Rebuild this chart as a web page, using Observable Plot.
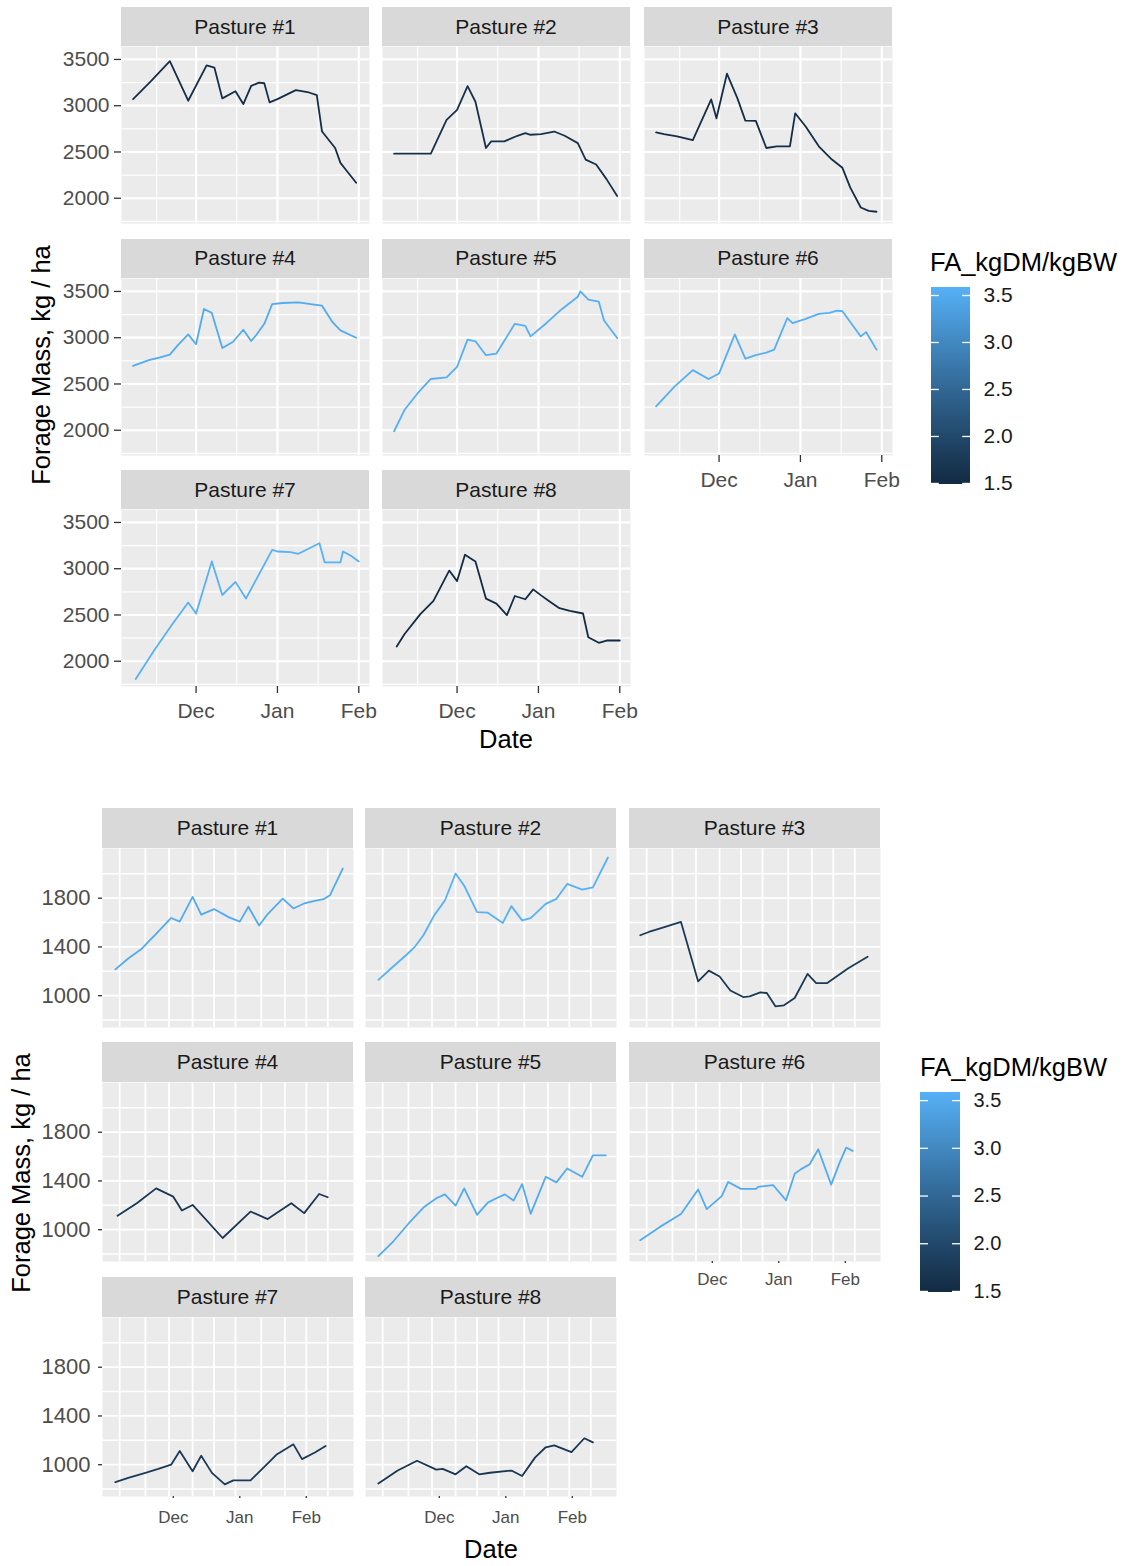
<!DOCTYPE html>
<html>
<head>
<meta charset="utf-8">
<script src="https://cdn.jsdelivr.net/npm/d3@7"></script>
<script src="https://cdn.jsdelivr.net/npm/@observablehq/plot@0.6"></script>
<style>
  body { margin: 0; background: #ffffff; }
  #root { position: relative; width: 1126px; height: 1566px; font-family: "Liberation Sans", Arial, sans-serif; overflow: hidden; }
  .strip { position: absolute; background: #D9D9D9; color: #1A1A1A; display: flex; align-items: center; justify-content: center; white-space: nowrap; }
  .txt { position: absolute; white-space: nowrap; color: #000; line-height: 1; }
</style>
</head>
<body>
<div id="root"></div>
<script>
// ---------------- DATA ----------------
const pastureNames = ["Pasture #1","Pasture #2","Pasture #3","Pasture #4","Pasture #5","Pasture #6","Pasture #7","Pasture #8"];

// Top chart: forage mass (kg/ha) by date
const topP1 = [["2016-11-07",3071],["2016-11-14",3270],["2016-11-21",3482],["2016-11-28",3054],["2016-12-05",3436],["2016-12-08",3411],["2016-12-11",3079],["2016-12-16",3157],["2016-12-19",3018],["2016-12-22",3214],["2016-12-25",3250],["2016-12-27",3243],["2016-12-29",3036],["2017-01-01",3071],["2017-01-08",3168],["2017-01-13",3143],["2017-01-16",3114],["2017-01-18",2721],["2017-01-23",2543],["2017-01-25",2382],["2017-01-27",2311],["2017-01-31",2168]];
const topP2 = [["2016-11-07",2482],["2016-11-21",2482],["2016-11-27",2846],["2016-12-01",2954],["2016-12-05",3211],["2016-12-08",3043],["2016-12-12",2543],["2016-12-14",2614],["2016-12-19",2614],["2016-12-24",2675],["2016-12-27",2704],["2016-12-29",2686],["2017-01-02",2693],["2017-01-07",2721],["2017-01-11",2675],["2017-01-16",2596],["2017-01-19",2418],["2017-01-23",2364],["2017-01-27",2204],["2017-01-31",2025]];
const topP3 = [["2016-11-07",2711],["2016-11-10",2693],["2016-11-15",2668],["2016-11-21",2629],["2016-11-28",3068],["2016-11-30",2864],["2016-12-04",3346],["2016-12-08",3079],["2016-12-11",2839],["2016-12-15",2836],["2016-12-19",2543],["2016-12-23",2561],["2016-12-28",2561],["2016-12-30",2918],["2017-01-03",2775],["2017-01-08",2561],["2017-01-13",2418],["2017-01-17",2329],["2017-01-20",2114],["2017-01-24",1900],["2017-01-27",1864],["2017-01-30",1854]];
const topP4 = [["2016-11-07",2696],["2016-11-13",2757],["2016-11-17",2786],["2016-11-21",2818],["2016-11-24",2918],["2016-11-28",3036],["2016-12-01",2929],["2016-12-04",3311],["2016-12-07",3268],["2016-12-11",2889],["2016-12-15",2954],["2016-12-19",3086],["2016-12-22",2964],["2016-12-24",3032],["2016-12-27",3150],["2016-12-30",3364],["2017-01-03",3375],["2017-01-09",3382],["2017-01-15",3357],["2017-01-18",3346],["2017-01-22",3168],["2017-01-25",3079],["2017-01-31",3000]];
const topP5 = [["2016-11-07",1989],["2016-11-11",2221],["2016-11-16",2400],["2016-11-21",2554],["2016-11-27",2571],["2016-12-01",2686],["2016-12-05",2979],["2016-12-08",2961],["2016-12-12",2811],["2016-12-16",2829],["2016-12-23",3150],["2016-12-27",3129],["2016-12-29",3014],["2017-01-04",3157],["2017-01-10",3311],["2017-01-16",3443],["2017-01-17",3500],["2017-01-20",3411],["2017-01-24",3389],["2017-01-26",3186],["2017-01-31",2996]];
const topP6 = [["2016-11-07",2257],["2016-11-14",2471],["2016-11-21",2650],["2016-11-27",2554],["2016-12-01",2614],["2016-12-07",3036],["2016-12-11",2775],["2016-12-15",2811],["2016-12-19",2839],["2016-12-22",2871],["2016-12-27",3211],["2016-12-29",3157],["2017-01-03",3204],["2017-01-08",3257],["2017-01-12",3268],["2017-01-15",3293],["2017-01-17",3286],["2017-01-24",3014],["2017-01-26",3061],["2017-01-30",2871]];
const topP7 = [["2016-11-08",1807],["2016-11-15",2117],["2016-11-22",2402],["2016-11-28",2634],["2016-12-01",2516],["2016-12-07",3079],["2016-12-11",2716],["2016-12-16",2858],["2016-12-20",2677],["2016-12-30",3204],["2017-01-01",3186],["2017-01-06",3179],["2017-01-09",3161],["2017-01-17",3275],["2017-01-19",3069],["2017-01-25",3069],["2017-01-26",3186],["2017-01-29",3140],["2017-02-01",3079]];
const topP8 = [["2016-11-08",2160],["2016-11-11",2295],["2016-11-17",2509],["2016-11-22",2652],["2016-11-28",2980],["2016-12-01",2866],["2016-12-04",3151],["2016-12-08",3079],["2016-12-12",2677],["2016-12-16",2623],["2016-12-20",2498],["2016-12-23",2705],["2016-12-27",2670],["2016-12-30",2777],["2017-01-02",2712],["2017-01-05",2652],["2017-01-09",2573],["2017-01-13",2545],["2017-01-18",2516],["2017-01-20",2260],["2017-01-24",2199],["2017-01-27",2224],["2017-02-01",2224]];
const topFA = [1.55, 1.6, 1.55, 3.5, 3.55, 3.55, 3.58, 1.5];

// Bottom chart
const botP1 = [["2016-11-04",1216],["2016-11-10",1305],["2016-11-16",1381],["2016-11-20",1454],["2016-11-23",1508],["2016-11-30",1638],["2016-12-04",1608],["2016-12-10",1811],["2016-12-14",1665],["2016-12-20",1711],["2016-12-27",1643],["2017-01-01",1608],["2017-01-05",1730],["2017-01-10",1576],["2017-01-14",1670],["2017-01-21",1797],["2017-01-26",1716],["2017-01-31",1757],["2017-02-05",1778],["2017-02-09",1792],["2017-02-12",1824],["2017-02-18",2043]];
const botP2 = [["2016-11-04",1130],["2016-11-10",1225],["2016-11-17",1334],["2016-11-21",1401],["2016-11-25",1496],["2016-11-30",1659],["2016-12-05",1781],["2016-12-10",2003],["2016-12-14",1903],["2016-12-20",1686],["2016-12-25",1681],["2017-01-01",1597],["2017-01-05",1735],["2017-01-10",1618],["2017-01-14",1637],["2017-01-21",1754],["2017-01-26",1795],["2017-01-31",1917],["2017-02-07",1870],["2017-02-12",1889],["2017-02-19",2134]];
const botP3 = [["2016-11-03",1496],["2016-11-07",1523],["2016-11-12",1550],["2016-11-22",1605],["2016-11-30",1117],["2016-12-05",1206],["2016-12-10",1157],["2016-12-15",1043],["2016-12-21",989],["2016-12-24",995],["2016-12-29",1027],["2017-01-01",1022],["2017-01-05",913],["2017-01-09",921],["2017-01-14",981],["2017-01-20",1179],["2017-01-24",1103],["2017-01-29",1103],["2017-02-08",1225],["2017-02-17",1320]];
const botP4 = [["2016-11-05",1114],["2016-11-14",1217],["2016-11-23",1339],["2016-12-01",1271],["2016-12-05",1157],["2016-12-10",1203],["2016-12-24",932],["2017-01-06",1149],["2017-01-14",1087],["2017-01-25",1217],["2017-01-31",1136],["2017-02-07",1293],["2017-02-11",1266]];
const botP5 = [["2016-11-04",783],["2016-11-11",905],["2016-11-18",1049],["2016-11-25",1182],["2016-12-01",1258],["2016-12-05",1290],["2016-12-10",1198],["2016-12-14",1339],["2016-12-20",1122],["2016-12-25",1222],["2016-12-29",1258],["2017-01-02",1290],["2017-01-06",1239],["2017-01-10",1374],["2017-01-14",1130],["2017-01-21",1434],["2017-01-26",1388],["2017-01-31",1502],["2017-02-07",1434],["2017-02-12",1610],["2017-02-18",1610]];
const botP6 = [["2016-11-03",914],["2016-11-12",1021],["2016-11-22",1129],["2016-11-30",1330],["2016-12-04",1169],["2016-12-11",1276],["2016-12-14",1392],["2016-12-20",1335],["2016-12-27",1335],["2016-12-28",1352],["2017-01-04",1365],["2017-01-10",1241],["2017-01-14",1459],["2017-01-17",1497],["2017-01-21",1537],["2017-01-25",1660],["2017-01-31",1370],["2017-02-04",1553],["2017-02-07",1674],["2017-02-10",1647]];
const botP7 = [["2016-11-04",857],["2016-11-10",892],["2016-11-18",933],["2016-11-24",965],["2016-11-30",1000],["2016-12-04",1113],["2016-12-10",946],["2016-12-14",1073],["2016-12-19",933],["2016-12-25",838],["2016-12-29",871],["2017-01-06",871],["2017-01-15",1027],["2017-01-18",1081],["2017-01-26",1167],["2017-01-30",1046],["2017-02-05",1100],["2017-02-10",1153]];
const botP8 = [["2016-11-04",846],["2016-11-13",952],["2016-11-22",1032],["2016-12-01",960],["2016-12-04",966],["2016-12-10",921],["2016-12-15",987],["2016-12-21",921],["2016-12-26",934],["2017-01-05",952],["2017-01-10",907],["2017-01-16",1058],["2017-01-21",1143],["2017-01-25",1159],["2017-02-02",1103],["2017-02-08",1217],["2017-02-12",1183]];
const botFA = [3.5, 3.58, 1.75, 1.7, 3.5, 3.5, 1.75, 1.7];

// Axis ticks / gridlines
const monthTicks = ["2016-12-01","2017-01-01","2017-02-01"];
const topMinorX = ["2016-11-16","2016-12-16T12:00Z","2017-01-16T12:00Z"];
const topMajorY = [2000, 2500, 3000, 3500];
const topMinorY = [1750, 2250, 2750, 3250];
const botGridX = ["2016-11-06","2016-11-18","2016-11-29","2016-12-10","2016-12-20","2016-12-30","2017-01-11","2017-01-22","2017-02-01","2017-02-11"];
const botMajorY = [1000, 1400, 1800];
const botMinorY = [800, 1200, 1600, 2000];
const legendTicks = [1.5, 2.0, 2.5, 3.0, 3.5];

const yTitle = "Forage Mass, kg / ha";
const xTitle = "Date";
const legendTitle = "FA_kgDM/kgBW";

// ---------------- RENDER ----------------
const FONT = '"Liberation Sans", Arial, sans-serif';
const FA_DOMAIN = [1.489, 3.585];
const FA_RANGE = ["#132B43", "#56B1F7"];
const root = document.getElementById("root");
const P = s => d3.isoParse(s);

function addDiv(cls, text, css) {
  const d = document.createElement("div");
  d.className = cls;
  d.textContent = text;
  Object.assign(d.style, css);
  root.appendChild(d);
  return d;
}

function makePanel(o) {
  const ML = 90, MB = 50, MR = 1;
  const marks = [
    Plot.frame({fill: "#EBEBEB", stroke: "none"}),
    Plot.ruleY(o.minorY, {stroke: "white", strokeWidth: o.minorW}),
    Plot.ruleX(o.minorX, {stroke: "white", strokeWidth: o.minorW}),
    Plot.ruleY(o.majorY, {stroke: "white", strokeWidth: o.majorW}),
    Plot.ruleX(o.majorX, {stroke: "white", strokeWidth: o.majorW}),
    Plot.line(o.data, {x: "date", y: "mass", stroke: "fa", strokeWidth: 1.8})
  ];
  if (o.showY) marks.push(Plot.axisY(o.yTicks, {anchor: "left", tickSize: o.yTickSize, tickPadding: o.yTickPad, fontSize: o.yFont, fill: "#4D4D4D", stroke: "#333333", strokeWidth: 1.3, label: null, tickFormat: d3.format("d")}));
  if (o.showX) marks.push(Plot.axisX(o.xTicks, {anchor: "bottom", tickSize: o.xTickSize, tickPadding: o.xTickPad, fontSize: o.xFont, fill: "#4D4D4D", stroke: "#333333", strokeWidth: 1.3, label: null, dx: o.xdx || 0, tickFormat: d3.utcFormat("%b")}));
  const svg = Plot.plot({
    width: o.w + ML + MR, height: o.h + MB,
    marginLeft: ML, marginRight: MR, marginTop: 0, marginBottom: MB,
    style: {background: "transparent", overflow: "visible", fontFamily: FONT},
    x: {type: "utc", domain: o.xDomain, axis: null},
    y: {domain: o.yDomain, axis: null},
    color: {type: "linear", domain: FA_DOMAIN, range: FA_RANGE, interpolate: "lab"},
    marks
  });
  Object.assign(svg.style, {position: "absolute", left: (o.left - ML) + "px", top: o.top + "px", maxWidth: "none"});
  root.appendChild(svg);
}

function makeLegend(o) {
  const N = 200;
  const step = (FA_DOMAIN[1] - FA_DOMAIN[0]) / N;
  const stops = d3.range(0, N).map(i => FA_DOMAIN[0] + step * i);
  const MR = 70;
  const svg = Plot.plot({
    width: o.w + MR, height: o.h,
    marginLeft: 0, marginRight: MR, marginTop: 0, marginBottom: 0,
    style: {background: "transparent", overflow: "visible", fontFamily: FONT},
    x: {domain: [0, 1], axis: null},
    y: {domain: FA_DOMAIN, axis: null},
    color: {type: "linear", domain: FA_DOMAIN, range: FA_RANGE, interpolate: "lab"},
    marks: [
      Plot.rect(stops, {x1: 0, x2: 1, y1: d => d, y2: d => Math.min(FA_DOMAIN[1], d + step * 2.5), fill: d => d, inset: 0, shapeRendering: "crispEdges"}),
      Plot.ruleY(legendTicks, {x1: 0, x2: 0.2, stroke: "white", strokeWidth: 1.3}),
      Plot.ruleY(legendTicks, {x1: 0.8, x2: 1, stroke: "white", strokeWidth: 1.3}),
      Plot.axisY(legendTicks, {anchor: "right", tickSize: 0, tickPadding: o.pad, fontSize: o.font, fill: "#1A1A1A", label: null, tickFormat: d3.format(".1f")})
    ]
  });
  Object.assign(svg.style, {position: "absolute", left: o.left + "px", top: o.top + "px", maxWidth: "none"});
  root.appendChild(svg);
  addDiv("txt", legendTitle, {left: o.titleLeft + "px", top: (o.titleY - 13) + "px", fontSize: "25.5px"});
}

function toRows(arr, fa) { return arr.map(([d, v]) => ({date: P(d), mass: v, fa})); }

// ---- Top chart ----
const topSeries = [topP1, topP2, topP3, topP4, topP5, topP6, topP7, topP8];
const topCols = [121, 382, 644], topRows = [7, 238.5, 470];
topSeries.forEach((s, i) => {
  const r = Math.floor(i / 3), c = i % 3;
  const left = topCols[c], top = topRows[r];
  addDiv("strip", pastureNames[i], {left: left + "px", top: top + "px", width: "248px", height: "39px", fontSize: "21px"});
  makePanel({
    data: toRows(s, topFA[i]), left, top: top + 39, w: 248, h: 177,
    xDomain: [P("2016-11-02T14:00Z"), P("2017-02-05T02:00Z")], yDomain: [1727, 3640],
    majorX: monthTicks.map(P), minorX: topMinorX.map(P), majorY: topMajorY, minorY: topMinorY,
    majorW: 2.2, minorW: 1.1,
    showY: c === 0, yTicks: topMajorY, yTickSize: 7, yTickPad: 5, yFont: 21,
    showX: r === 2 || (r === 1 && c === 2), xTicks: monthTicks.map(P), xTickSize: 7, xTickPad: 9.5, xFont: 21
  });
});
addDiv("txt", yTitle, {left: "42px", top: "365px", fontSize: "25.5px", transform: "translate(-50%,-50%) rotate(-90deg)"});
addDiv("txt", xTitle, {left: "506px", top: "740px", fontSize: "25.5px", transform: "translate(-50%,-50%)"});
makeLegend({left: 931, top: 287, w: 39, h: 197, pad: 13, font: 21, titleLeft: 930, titleY: 263});

// ---- Bottom chart ----
const botSeries = [botP1, botP2, botP3, botP4, botP5, botP6, botP7, botP8];
const botCols = [102, 365, 629], botRowsTop = [808, 1042, 1277];
const botDx = [0, 3, 12];
botSeries.forEach((s, i) => {
  const r = Math.floor(i / 3), c = i % 3;
  const left = botCols[c], top = botRowsTop[r];
  addDiv("strip", pastureNames[i], {left: left + "px", top: top + "px", width: "251px", height: "40px", fontSize: "21px"});
  makePanel({
    data: toRows(s, botFA[i]), left, top: top + 40, w: 251, h: 179,
    xDomain: [P("2016-10-29"), P("2017-02-23")], yDomain: [739, 2208],
    majorX: botGridX.map(P), minorX: [], majorY: botMajorY, minorY: botMinorY,
    majorW: 1.8, minorW: 1.5,
    showY: c === 0, yTicks: botMajorY, yTickSize: 4, yTickPad: 8, yFont: 22,
    showX: r === 2 || (r === 1 && c === 2), xTicks: monthTicks.map(P), xTickSize: 2, xTickPad: r === 2 ? 12 : 9, xFont: 17, xdx: botDx[c]
  });
});
addDiv("txt", yTitle, {left: "22px", top: "1173px", fontSize: "25.5px", transform: "translate(-50%,-50%) rotate(-90deg)"});
addDiv("txt", xTitle, {left: "491px", top: "1550px", fontSize: "25.5px", transform: "translate(-50%,-50%)"});
makeLegend({left: 920, top: 1092, w: 40, h: 200, pad: 13, font: 20, titleLeft: 920, titleY: 1068});
</script>
</body>
</html>
